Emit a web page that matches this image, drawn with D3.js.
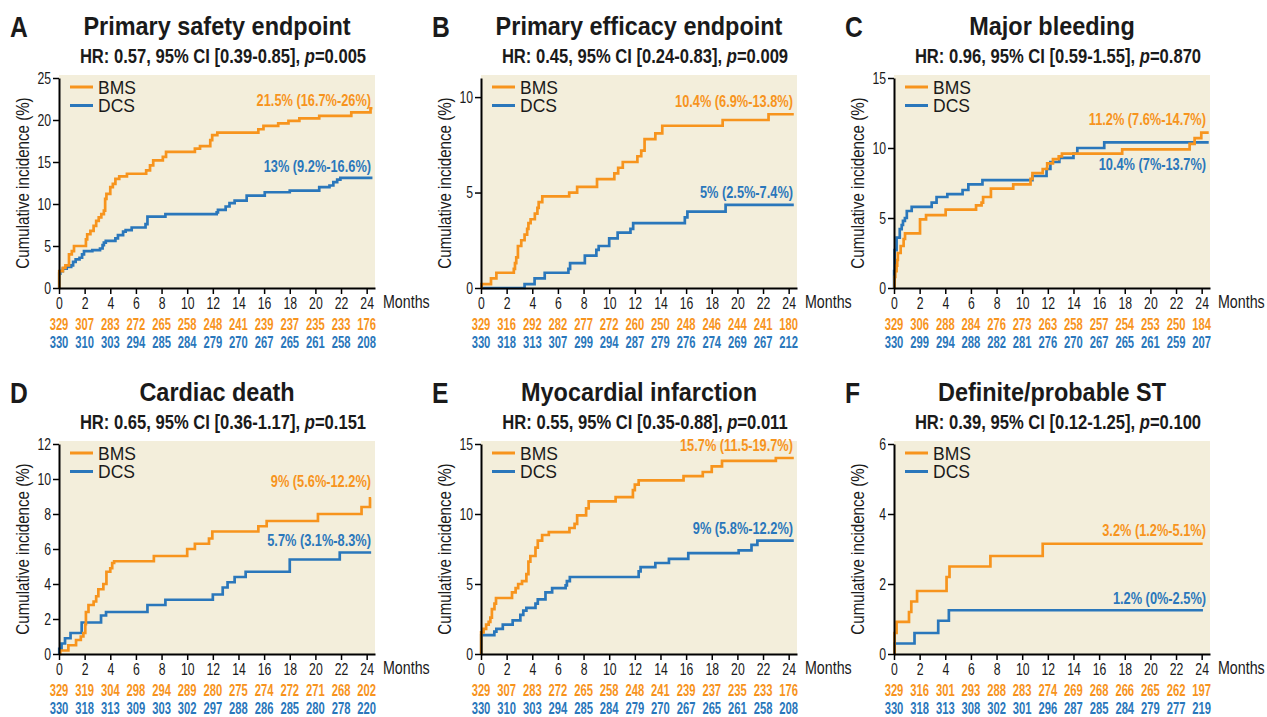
<!DOCTYPE html>
<html>
<head>
<meta charset="utf-8">
<script src="https://cdn.jsdelivr.net/npm/d3@7"></script>
<style>
  body { margin: 0; background: #fff; }
  text { font-family: 'Liberation Sans', Arial, sans-serif; }
</style>
</head>
<body>
<script>
// at-risk months
var months = [0, 2, 4, 6, 8, 10, 12, 14, 16, 18, 20, 22, 24];

var letters = ["A", "B", "C", "D", "E", "F"];
var titles = ["Primary safety endpoint", "Primary efficacy endpoint", "Major bleeding",
              "Cardiac death", "Myocardial infarction", "Definite/probable ST"];
var hrText = ["HR: 0.57, 95% CI [0.39-0.85], ", "HR: 0.45, 95% CI [0.24-0.83], ", "HR: 0.96, 95% CI [0.59-1.55], ",
              "HR: 0.65, 95% CI [0.36-1.17], ", "HR: 0.55, 95% CI [0.35-0.88], ", "HR: 0.39, 95% CI [0.12-1.25], "];
var pText = ["0.005", "0.009", "0.870", "0.151", "0.011", "0.100"];
var yMax = [25, 11, 15, 12, 15, 6];
var yTicks = [[0, 5, 10, 15, 20, 25], [0, 5, 10], [0, 5, 10, 15], [0, 2, 4, 6, 8, 10, 12], [0, 5, 10, 15], [0, 2, 4, 6]];
var bmsLabel = ["21.5% (16.7%-26%)", "10.4% (6.9%-13.8%)", "11.2% (7.6%-14.7%)", "9% (5.6%-12.2%)", "15.7% (11.5-19.7%)", "3.2% (1.2%-5.1%)"];
var dcsLabel = ["13% (9.2%-16.6%)", "5% (2.5%-7.4%)", "10.4% (7%-13.7%)", "5.7% (3.1%-8.3%)", "9% (5.8%-12.2%)", "1.2% (0%-2.5%)"];
// label heights, in y units
var bmsLabelY = [21.7, 9.5, 11.64, 9.53, 14.52, 3.36];
var dcsLabelY = [13.8, 4.71, 8.43, 6.16, 8.54, 1.44];

// step curves: [month, cumulative incidence %]
var bmsA = [[0,0],[0.02,2.0],[0.3,2.4],[0.5,2.7],[0.78,4.0],[1.0,4.4],[1.17,5.0],[2.1,5.8],[2.2,6.4],[2.45,6.8],[2.7,7.4],[2.9,8.0],[3.1,8.4],[3.3,8.8],[3.5,9.2],[3.6,10.6],[3.7,11.2],[4.0,12.0],[4.2,12.4],[4.4,13.0],[4.7,13.3],[5.3,13.6],[6.8,14.0],[7.1,14.6],[7.35,15.2],[8.1,15.6],[8.35,16.2],[10.6,16.6],[11.0,16.9],[11.8,17.6],[11.95,18.2],[12.35,18.5],[15.55,18.9],[15.95,19.3],[17.1,19.6],[17.9,19.9],[18.75,20.2],[20.3,20.5],[22.8,20.9],[24.3,21.4],[24.45,21.4]];
var dcsA = [[0,0],[0.02,1.7],[0.1,2.0],[0.3,2.3],[0.6,2.5],[0.95,2.7],[1.1,3.1],[1.3,3.4],[1.6,3.6],[1.8,4.0],[1.95,4.4],[2.6,4.5],[3.2,4.7],[3.4,5.1],[3.5,5.4],[3.65,5.6],[4.4,5.9],[4.6,6.3],[5.0,6.7],[5.2,6.9],[5.67,7.2],[6.75,7.6],[6.9,8.5],[8.3,8.8],[12.3,9.0],[12.4,9.3],[13.0,9.7],[13.3,10.1],[13.7,10.4],[14.64,11.0],[16.05,11.4],[18.0,11.6],[20.3,12.0],[21.1,12.2],[21.4,12.6],[21.7,12.9],[21.95,13.1],[24.45,13.1]];
var bmsB = [[0,0],[0.05,0.2],[0.78,0.5],[1.2,0.8],[2.56,1.0],[2.65,1.3],[2.75,1.6],[2.88,2.2],[3.14,2.5],[3.4,2.8],[3.6,3.1],[3.7,3.4],[3.87,3.6],[4.2,3.9],[4.4,4.2],[4.5,4.5],[4.78,4.8],[6.88,5.0],[7.5,5.3],[9.05,5.7],[10.4,6.0],[10.7,6.3],[11.06,6.6],[12.2,6.9],[12.5,7.2],[12.76,7.8],[13.6,8.1],[14.14,8.5],[18.85,8.8],[22.43,9.1],[24.4,9.1]];
var dcsB = [[0,0],[3.4,0.2],[4.18,0.5],[4.97,0.8],[6.82,1.0],[6.95,1.3],[8.1,1.7],[9.0,2.0],[9.18,2.2],[10.0,2.6],[10.66,2.9],[11.66,3.1],[11.87,3.4],[15.9,3.7],[16.1,4.0],[19.08,4.35],[24.4,4.35]];
var bmsC = [[0,0],[0.05,0.8],[0.1,1.2],[0.2,1.6],[0.25,2.0],[0.3,2.5],[0.52,3.0],[0.75,3.5],[0.86,3.9],[2.03,4.9],[2.5,5.2],[4.03,5.6],[6.4,5.9],[6.83,6.1],[6.95,6.5],[7.56,7.1],[9.3,7.4],[10.65,7.8],[10.8,8.2],[11.6,8.5],[11.95,8.9],[12.4,9.2],[12.85,9.4],[13.1,9.6],[17.8,9.9],[23.06,10.3],[23.45,10.7],[23.97,11.1],[24.55,11.1]];
var dcsC = [[0,0],[0.01,1.2],[0.05,2.7],[0.2,3.6],[0.45,4.2],[0.6,4.5],[0.7,4.8],[0.85,5.0],[1.0,5.5],[1.38,5.8],[2.94,6.1],[3.32,6.5],[4.16,6.7],[5.35,7.0],[5.8,7.4],[6.9,7.7],[10.8,8.0],[11.9,8.5],[12.2,9.0],[12.9,9.3],[14.0,9.6],[14.3,10.0],[16.4,10.4],[24.55,10.4]];
var bmsD = [[0,0],[0.1,0.2],[0.73,0.5],[1.33,0.8],[1.7,1.0],[1.9,1.2],[2.05,1.7],[2.1,2.4],[2.3,2.8],[2.7,3.0],[2.9,3.3],[3.07,3.7],[3.46,4.0],[3.7,4.7],[4.0,4.9],[4.15,5.2],[4.3,5.3],[7.4,5.6],[10.0,6.0],[10.6,6.3],[11.7,6.6],[11.96,7.0],[15.55,7.3],[16.2,7.6],[20.2,8.0],[23.6,8.4],[24.26,8.9],[24.35,8.9]];
var dcsD = [[0,0],[0.02,0.3],[0.2,0.6],[0.47,0.9],[0.9,1.2],[1.77,1.8],[3.28,2.2],[3.67,2.4],[6.9,2.8],[8.3,3.1],[12.0,3.4],[12.77,3.8],[13.15,4.1],[13.7,4.4],[14.56,4.7],[18.0,5.4],[21.9,5.8],[24.35,5.8]];
var bmsE = [[0,0],[0.01,1.55],[0.2,1.8],[0.4,2.1],[0.6,2.3],[0.73,2.6],[0.85,3.2],[1.05,3.6],[1.17,4.0],[2.42,4.4],[2.7,4.7],[2.9,5.0],[3.2,5.2],[3.54,5.7],[3.7,6.6],[3.85,7.0],[4.25,7.6],[4.43,8.1],[4.77,8.5],[5.29,8.7],[6.9,9.0],[7.3,9.3],[7.5,9.9],[8.2,10.4],[8.4,10.9],[10.5,11.2],[11.85,11.7],[12.0,12.1],[12.3,12.4],[15.8,12.7],[17.3,13.0],[18.0,13.4],[18.8,13.8],[23.0,14.0],[24.4,14.0]];
var dcsE = [[0,0],[0.02,1.35],[1.04,1.6],[1.2,1.8],[1.7,2.1],[2.47,2.4],[3.07,2.8],[3.3,3.1],[3.54,3.3],[4.25,3.6],[4.43,3.9],[5.03,4.4],[5.55,4.7],[6.6,4.9],[6.7,5.2],[6.93,5.5],[12.3,5.9],[12.45,6.2],[13.6,6.5],[14.66,6.8],[16.17,7.2],[20.1,7.4],[21.1,7.8],[21.56,8.1],[24.4,8.1]];
var bmsF = [[0,0],[0.05,0.6],[0.2,0.92],[1.17,1.2],[1.35,1.5],[1.8,1.8],[4.1,2.2],[4.33,2.5],[7.52,2.8],[11.6,3.15],[24.08,3.15]];
var dcsF = [[0,0],[0.05,0.3],[1.6,0.6],[3.45,0.95],[4.28,1.25],[24.1,1.25]];

// numbers at risk
var riskBmsA = [329,307,283,272,265,258,248,241,239,237,235,233,176];
var riskDcsA = [330,310,303,294,285,284,279,270,267,265,261,258,208];
var riskBmsB = [329,316,292,282,277,272,260,250,248,246,244,241,180];
var riskDcsB = [330,318,313,307,299,294,287,279,276,274,269,267,212];
var riskBmsC = [329,306,288,284,276,273,263,258,257,254,253,250,184];
var riskDcsC = [330,299,294,288,282,281,276,270,267,265,261,259,207];
var riskBmsD = [329,319,304,298,294,289,280,275,274,272,271,268,202];
var riskDcsD = [330,318,313,309,303,302,297,288,286,285,280,278,220];
var riskBmsE = [329,307,283,272,265,258,248,241,239,237,235,233,176];
var riskDcsE = [330,310,303,294,285,284,279,270,267,265,261,258,208];
var riskBmsF = [329,316,301,293,288,283,274,269,268,266,265,262,197];
var riskDcsF = [330,318,313,308,302,301,296,287,285,284,279,277,219];

var bmsCurves = [bmsA, bmsB, bmsC, bmsD, bmsE, bmsF];
var dcsCurves = [dcsA, dcsB, dcsC, dcsD, dcsE, dcsF];
var riskBms = [riskBmsA, riskBmsB, riskBmsC, riskBmsD, riskBmsE, riskBmsF];
var riskDcs = [riskDcsA, riskDcsB, riskDcsC, riskDcsD, riskDcsE, riskDcsF];

var ORANGE = "#f7941d", BLUE = "#2a77bb", BG = "#f3eedb", INK = "#1a1a1a";
var colX = [59, 481, 894];
var rowBottom = [288, 654];
var plotW = 316, plotH = 210;

// no condensed face installed: squeeze text horizontally around its anchor
function squeeze(sel, sx) {
  sel.each(function() {
    var t = d3.select(this);
    var x = +t.attr("x") || 0, y = +t.attr("y") || 0;
    var tr = t.attr("transform") || "";
    t.attr("x", 0).attr("y", 0)
      .attr("transform", tr + " translate(" + x + "," + y + ") scale(" + sx + ",1)");
  });
  return sel;
}

var svg = d3.select("body")
  .append("svg")
    .attr("width", 1267)
    .attr("height", 717);

letters.forEach(function(letter, i) {
  var x0 = colX[i % 3], y0 = rowBottom[Math.floor(i / 3)];
  var g = svg.append("g").attr("transform", "translate(" + x0 + "," + (y0 - plotH) + ")");

  var x = d3.scaleLinear().domain([0, 24.65]).range([0, plotW]);
  var y = d3.scaleLinear().domain([0, yMax[i]]).range([plotH, 0]);

  g.append("rect")
    .attr("x", 0).attr("y", -3)
    .attr("width", plotW).attr("height", plotH + 3)
    .attr("fill", BG);

  // titles
  squeeze(g.append("text")
    .attr("x", -49).attr("y", -41)
    .style("font-size", "29px").style("font-weight", "bold").attr("fill", INK)
    .text(letter), 0.85);
  squeeze(g.append("text")
    .attr("x", plotW / 2).attr("y", -43)
    .attr("text-anchor", "middle")
    .style("font-size", "25.5px").style("font-weight", "bold").attr("fill", INK)
    .text(titles[i]), 0.92);
  var sub = g.append("text")
    .attr("x", plotW / 2 + 6).attr("y", -15)
    .attr("text-anchor", "middle")
    .style("font-size", "20px").style("font-weight", "bold").attr("fill", INK);
  sub.append("tspan").text(hrText[i]);
  sub.append("tspan").style("font-style", "italic").text("p");
  sub.append("tspan").text("=" + pText[i]);
  squeeze(sub, 0.83);

  // curves
  var line = d3.line()
    .x(function(d) { return x(d[0]); })
    .y(function(d) { return y(d[1]); })
    .curve(d3.curveStepAfter);
  g.append("path").datum(dcsCurves[i])
    .attr("d", line).attr("fill", "none")
    .attr("stroke", BLUE).attr("stroke-width", 2.7);
  g.append("path").datum(bmsCurves[i])
    .attr("d", line).attr("fill", "none")
    .attr("stroke", ORANGE).attr("stroke-width", 2.7);

  // axes
  var yAxis = g.append("g").call(d3.axisLeft(y).tickValues(yTicks[i]).tickFormat(d3.format("d")).tickSize(6).tickSizeOuter(0));
  var xAxis = g.append("g").attr("transform", "translate(0," + plotH + ")")
    .call(d3.axisBottom(x).tickValues(months).tickSize(6).tickSizeOuter(0));
  [yAxis, xAxis].forEach(function(a) {
    a.select(".domain").attr("stroke", "#000").attr("stroke-width", 2);
    a.selectAll(".tick line").attr("stroke", "#000").attr("stroke-width", 1.5);
    a.selectAll(".tick text").style("font-size", "17px").attr("fill", INK);
  });
  yAxis.selectAll(".tick text").attr("x", -8);
  xAxis.selectAll(".tick text").attr("y", 9);
  squeeze(yAxis.selectAll(".tick text"), 0.72);
  squeeze(xAxis.selectAll(".tick text"), 0.72);

  squeeze(g.append("text")
    .attr("x", plotW + 8).attr("y", plotH + 20)
    .style("font-size", "19px").attr("fill", INK)
    .text("Months"), 0.75);

  squeeze(g.append("text")
    .attr("transform", "translate(-30," + (plotH / 2) + ") rotate(-90)")
    .attr("text-anchor", "middle")
    .style("font-size", "18px").attr("fill", INK)
    .text("Cumulative incidence (%)"), 0.84);

  // legend
  [["BMS", ORANGE], ["DCS", BLUE]].forEach(function(l, k) {
    var ly = 9 + k * 18.5;
    g.append("line")
      .attr("x1", 11).attr("x2", 34).attr("y1", ly).attr("y2", ly)
      .attr("stroke", l[1]).attr("stroke-width", 3);
    g.append("text")
      .attr("x", 39).attr("y", ly + 6.5)
      .style("font-size", "17.5px").attr("fill", INK)
      .text(l[0]);
  });

  // end labels
  squeeze(g.append("text")
    .attr("x", plotW - 4).attr("y", y(bmsLabelY[i]))
    .attr("text-anchor", "end")
    .style("font-size", "16px").style("font-weight", "bold").attr("fill", ORANGE)
    .text(bmsLabel[i]), 0.8);
  squeeze(g.append("text")
    .attr("x", plotW - 4).attr("y", y(dcsLabelY[i]))
    .attr("text-anchor", "end")
    .style("font-size", "16px").style("font-weight", "bold").attr("fill", BLUE)
    .text(dcsLabel[i]), 0.8);

  // numbers at risk
  [[riskBms[i], ORANGE, 42], [riskDcs[i], BLUE, 60]].forEach(function(r) {
    squeeze(g.append("g").selectAll("text")
      .data(r[0])
      .enter()
      .append("text")
        .attr("x", function(d, k) { return x(months[k]); })
        .attr("y", plotH + r[2])
        .attr("text-anchor", "middle")
        .style("font-size", "17px").style("font-weight", "bold").attr("fill", r[1])
        .text(function(d) { return d; }), 0.66);
  });
});
</script>
</body>
</html>
